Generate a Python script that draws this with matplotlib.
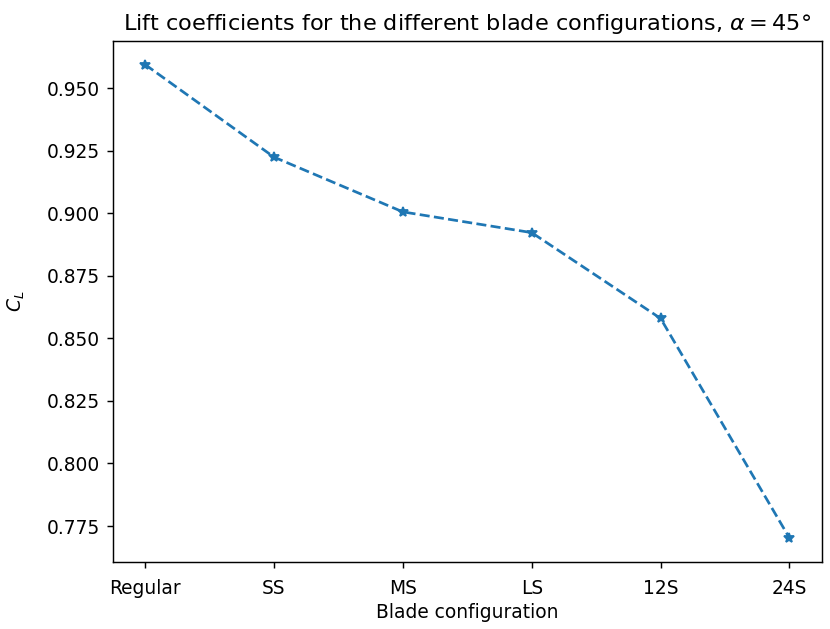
import matplotlib
matplotlib.use("Agg")
import matplotlib.pyplot as plt

configs = ["Regular", "SS", "MS", "LS", "12S", "24S"]
cl = [0.9595, 0.9225, 0.9006, 0.8923, 0.8580, 0.7702]

plt.rcParams["font.size"] = 10.3

fig, ax = plt.subplots(figsize=(830 / 130, 629 / 130), dpi=130)
ax.plot(configs, cl, "*--")
ax.set_xlabel("Blade configuration", labelpad=3)
ax.set_ylabel(r"$C_L$", labelpad=11)
ax.set_title(r"Lift coefficients for the different blade configurations, $\alpha = 45\degree$")
ax.tick_params(axis="x", pad=6)
fig.subplots_adjust(left=0.136, right=0.99, top=0.935, bottom=0.107)
fig.savefig("out.png")
